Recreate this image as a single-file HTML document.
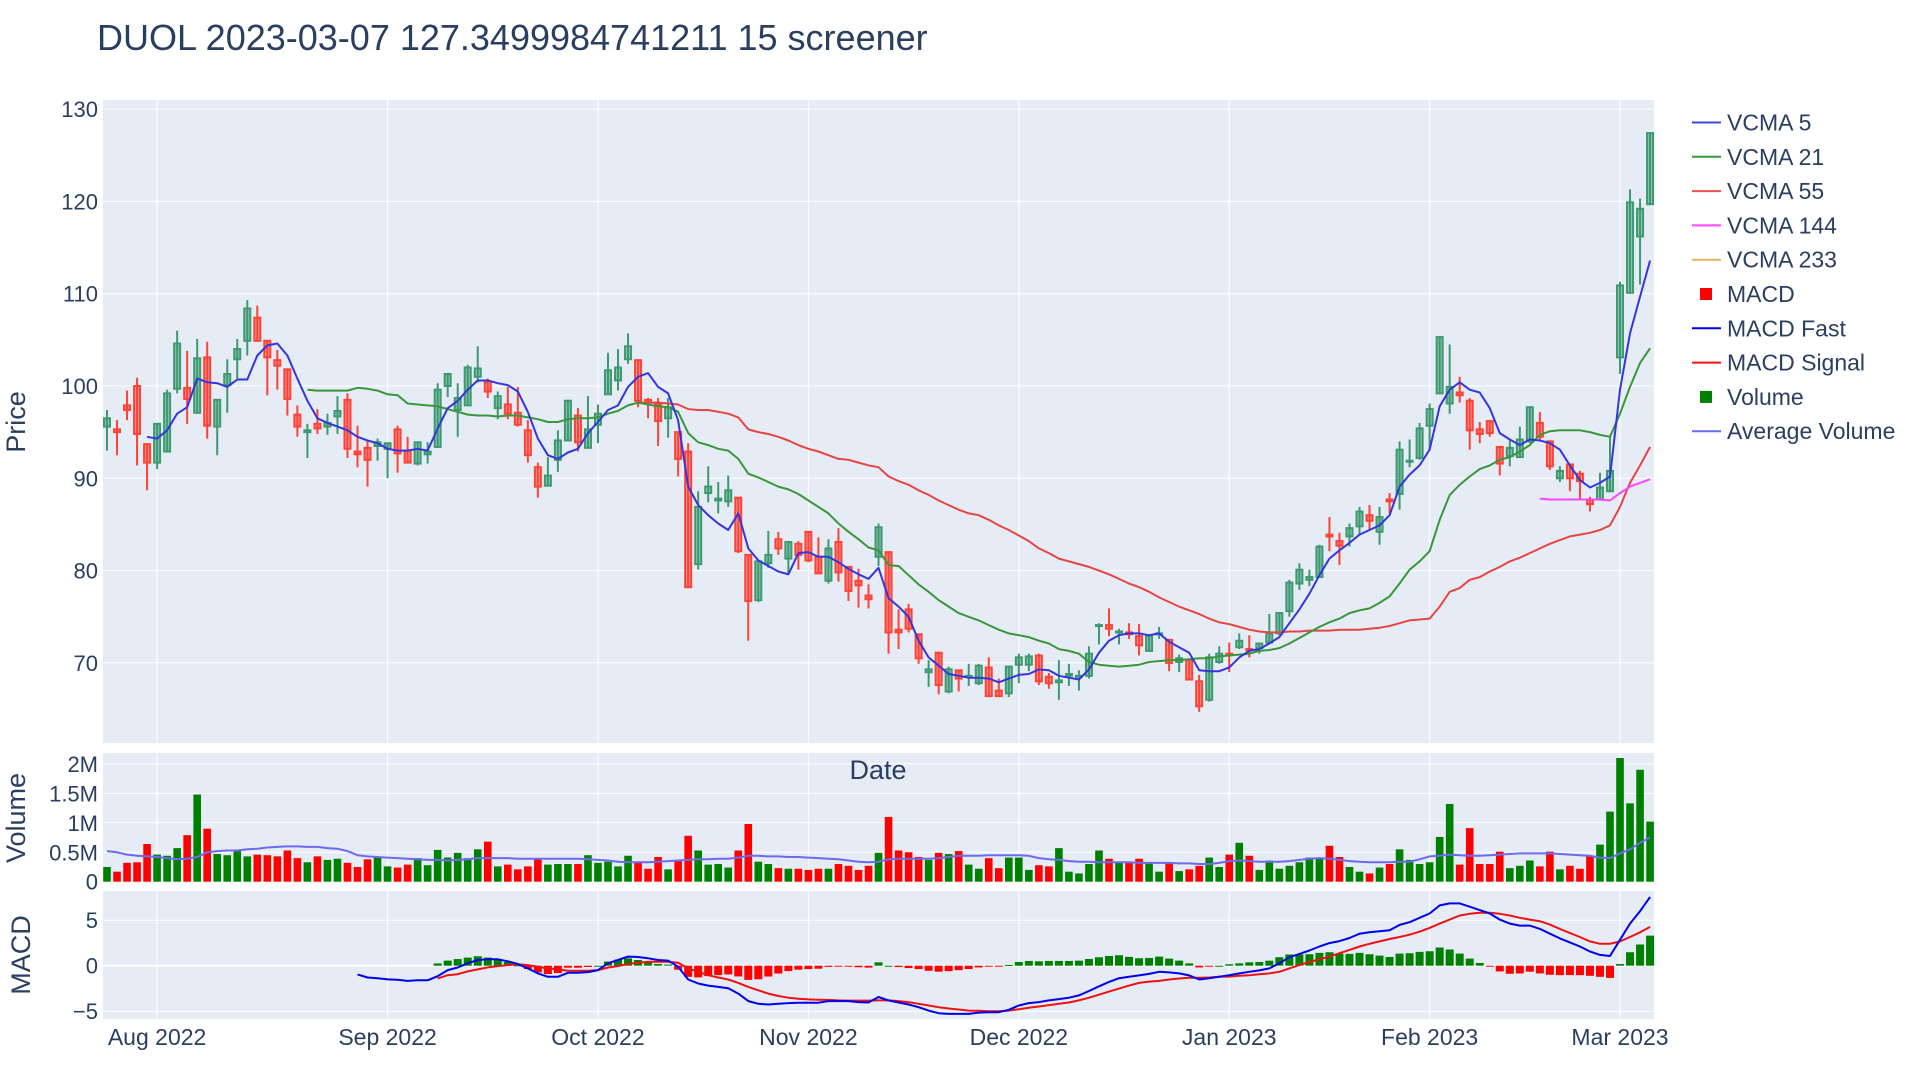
<!DOCTYPE html>
<html>
<head>
<meta charset="utf-8">
<style>
html,body{margin:0;padding:0;background:#fff;}
body{width:1920px;height:1080px;overflow:hidden;font-family:"Liberation Sans",Arial,sans-serif;}
svg{position:absolute;left:0;top:0;}
text{font-family:"Liberation Sans",Arial,sans-serif;fill:#2a3f5f;}
</style>
</head>
<body>
<svg id="chart" width="1920" height="1080" viewBox="0 0 1920 1080">
  <text x="97" y="50" font-size="36">DUOL 2023-03-07 127.3499984741211 15 screener</text>
  <rect x="103" y="100" width="1551" height="643" fill="#e5ecf6"/>
  <rect x="103" y="753" width="1551" height="130" fill="#e5ecf6"/>
  <rect x="103" y="891" width="1551" height="128" fill="#e5ecf6"/>
  <g id="grid"></g>
  <g id="marks"></g>
  <g id="axes"></g>
  <text transform="translate(25,422) rotate(-90)" text-anchor="middle" font-size="27">Price</text>
  <text transform="translate(25,818) rotate(-90)" text-anchor="middle" font-size="27">Volume</text>
  <text transform="translate(30,955) rotate(-90)" text-anchor="middle" font-size="27">MACD</text>
  <text x="878" y="779" text-anchor="middle" font-size="27">Date</text>
  <g id="legend"></g>
</svg>
<script>
// ---------- data ----------
const xTickIdx = [5,28,49,70,91,112,132,151];
const xTickLabels = ["Aug 2022","Sep 2022","Oct 2022","Nov 2022","Dec 2022","Jan 2023","Feb 2023","Mar 2023"];
const priceTicks = [70,80,90,100,110,120,130];
const volTicks = [0,0.5,1,1.5,2];
const volTickLabels = ["0","0.5M","1M","1.5M","2M"];
const macdTicks = [-5,0,5];
const macdTickLabels = ["\u22125","0","5"];

const openP = [95.6,95.3,97.9,100.0,93.7,91.7,92.9,99.7,99.8,97.1,
103.1,95.6,100.1,102.9,104.9,107.4,104.9,102.8,101.8,96.9,
95.0,95.9,95.6,96.7,98.5,92.9,93.3,93.5,93.2,95.3,
93.0,91.6,92.6,93.4,100.0,97.4,97.9,101.0,100.5,97.6,
98.0,97.1,95.2,91.2,89.2,92.0,94.1,96.8,93.3,95.8,
99.1,100.6,102.9,102.8,98.5,98.0,96.5,95.0,92.9,80.7,
88.4,87.6,87.5,87.9,81.7,76.8,80.8,83.4,81.3,82.9,
84.2,81.5,78.9,83.1,80.4,78.9,77.3,81.5,82.0,73.6,
75.8,73.1,69.0,71.1,66.9,69.2,68.5,67.8,69.5,67.0,
66.7,69.8,69.8,70.8,68.5,67.9,68.6,68.5,68.6,74.0,
74.1,73.3,73.3,72.9,71.3,73.1,72.5,70.1,70.3,68.0,
66.0,70.1,71.0,71.7,71.5,71.6,72.2,73.2,75.6,78.6,
79.0,79.3,83.9,83.2,83.7,84.8,86.0,84.2,87.7,88.3,
91.8,92.2,95.7,99.2,98.1,99.3,98.4,95.3,96.2,93.4,
92.4,92.3,94.0,96.0,94.0,90.0,91.5,90.5,87.7,87.7,
88.6,103.1,110.1,116.2,119.7];
const highP = [97.4,96.3,99.5,100.9,93.7,96.0,99.6,106.0,103.8,105.1,
104.8,98.6,102.9,105.1,109.3,108.7,104.9,103.9,101.8,97.9,
95.9,97.5,97.0,98.9,99.2,95.7,94.1,94.3,93.8,95.7,
94.5,93.9,93.9,100.3,101.3,100.3,102.3,104.3,100.8,99.4,
99.9,99.9,96.3,91.7,92.3,95.2,98.5,97.6,98.9,98.0,
103.6,104.0,105.7,102.8,98.7,98.7,98.7,95.0,93.8,88.6,
91.3,89.6,90.3,87.9,81.7,81.1,84.3,84.2,83.2,83.2,
84.2,83.6,83.4,84.6,80.4,80.2,78.5,85.1,82.0,75.8,
76.4,73.2,70.3,71.2,69.6,69.2,69.9,69.9,70.6,68.3,
69.7,71.0,71.0,71.0,68.9,70.3,69.9,69.2,71.8,74.3,
75.9,73.7,74.3,74.2,72.9,73.9,72.6,70.9,70.4,68.7,
71.0,71.8,72.2,73.2,73.0,72.2,75.3,75.5,79.0,80.8,
80.1,82.8,85.8,84.1,85.1,86.9,87.1,86.9,88.4,94.0,
94.2,96.0,98.1,105.3,104.5,101.0,98.7,96.1,96.3,93.4,
94.1,95.6,97.8,97.2,94.1,91.3,91.6,90.8,88.0,90.6,
94.5,111.3,121.3,120.3,127.4];
const lowP = [93.0,92.5,96.3,91.4,88.7,91.0,92.9,99.2,95.9,97.0,
94.3,92.5,97.1,100.8,103.3,104.8,99.0,99.6,96.8,94.5,
92.2,94.8,94.7,94.8,92.2,91.2,89.1,91.9,90.0,90.6,
91.7,91.4,91.6,93.4,98.8,94.5,97.9,100.4,98.7,96.4,
96.4,95.6,91.7,87.9,89.1,90.7,94.1,92.9,93.3,93.8,
99.1,99.5,102.4,97.7,96.5,93.5,94.4,90.2,78.2,80.1,
87.4,86.2,86.9,81.9,72.4,76.6,80.3,81.7,79.7,80.1,
80.9,79.6,78.6,78.8,76.7,76.0,75.9,80.5,71.0,71.5,
73.3,69.9,67.4,66.6,66.7,66.9,67.5,67.6,66.4,66.4,
66.3,67.8,69.1,67.6,67.2,66.0,67.5,67.0,68.3,72.0,
72.9,72.0,72.6,70.8,71.3,72.6,69.1,69.0,68.1,64.7,
65.8,69.9,69.0,71.5,70.6,71.0,72.1,73.0,75.0,77.9,
78.3,79.3,82.1,80.6,82.6,83.8,84.4,82.8,86.2,86.6,
91.2,92.0,93.1,99.2,97.0,98.2,93.1,93.8,94.5,90.3,
91.3,92.3,93.8,94.2,90.9,89.6,88.6,87.7,86.4,87.6,
88.5,101.3,110.0,111.0,119.7];
const closeP = [96.5,95.0,97.4,94.8,91.7,95.9,99.2,104.6,98.6,103.0,
95.7,98.5,101.3,104.0,108.4,104.9,103.1,102.2,98.6,95.6,
95.2,95.4,96.0,97.3,93.2,92.6,92.0,93.9,93.8,92.7,
91.7,93.9,92.9,99.6,101.3,98.7,102.0,101.9,99.4,98.9,
97.0,95.8,92.5,89.1,90.3,94.1,98.4,93.9,95.3,97.0,
101.7,102.0,104.3,98.4,98.2,96.2,97.7,92.1,78.2,86.9,
89.1,87.8,88.7,82.1,76.7,81.0,81.7,82.4,83.1,81.7,
81.1,79.7,82.4,79.8,77.8,78.4,76.9,84.7,73.3,73.3,
73.7,70.5,69.3,67.6,69.3,68.3,68.6,69.7,66.4,66.4,
69.6,70.6,70.7,68.0,67.8,68.1,68.8,68.6,71.0,74.1,
73.7,73.4,73.1,71.9,72.9,73.2,70.0,70.5,68.2,65.3,
70.6,71.0,70.9,72.4,71.4,72.1,73.2,75.4,78.7,80.1,
79.3,82.6,83.7,82.7,84.6,86.4,85.4,85.8,87.5,93.1,
91.9,95.4,97.5,105.3,99.9,99.0,95.2,94.8,94.9,91.6,
93.3,94.2,97.7,94.5,91.3,90.8,90.0,89.7,87.2,89.0,
90.8,110.9,119.9,119.2,127.4];

const volumeM = [0.25,0.17,0.32,0.33,0.64,0.46,0.44,0.57,0.79,1.48,
0.90,0.47,0.45,0.52,0.43,0.46,0.45,0.43,0.53,0.40,
0.33,0.43,0.37,0.39,0.32,0.25,0.38,0.42,0.26,0.24,
0.29,0.40,0.28,0.54,0.41,0.49,0.40,0.55,0.68,0.26,
0.29,0.21,0.26,0.39,0.29,0.30,0.30,0.30,0.45,0.32,
0.34,0.26,0.44,0.32,0.22,0.42,0.21,0.37,0.78,0.53,
0.29,0.30,0.24,0.53,0.98,0.34,0.30,0.23,0.22,0.22,
0.20,0.22,0.22,0.30,0.27,0.20,0.27,0.49,1.10,0.53,
0.50,0.42,0.37,0.49,0.47,0.52,0.29,0.22,0.40,0.23,
0.41,0.41,0.20,0.28,0.26,0.57,0.17,0.14,0.30,0.53,
0.39,0.32,0.32,0.39,0.32,0.17,0.32,0.18,0.21,0.27,
0.41,0.25,0.46,0.66,0.44,0.20,0.36,0.22,0.27,0.33,
0.41,0.41,0.61,0.42,0.25,0.17,0.14,0.24,0.30,0.55,
0.37,0.30,0.33,0.76,1.32,0.29,0.91,0.30,0.30,0.51,
0.23,0.27,0.36,0.26,0.51,0.21,0.27,0.22,0.44,0.63,
1.19,2.10,1.33,1.90,1.02];
const avgVolumeM = [0.52,0.50,0.46,0.44,0.43,0.42,0.40,0.38,0.39,0.42,
0.50,0.52,0.53,0.53,0.55,0.56,0.58,0.59,0.60,0.60,
0.59,0.59,0.57,0.56,0.52,0.45,0.43,0.42,0.41,0.40,
0.39,0.38,0.37,0.37,0.36,0.37,0.38,0.40,0.40,0.40,
0.40,0.39,0.39,0.39,0.39,0.39,0.39,0.39,0.38,0.37,
0.36,0.34,0.33,0.33,0.33,0.34,0.35,0.36,0.37,0.38,
0.38,0.39,0.39,0.41,0.44,0.44,0.43,0.43,0.42,0.42,
0.41,0.40,0.39,0.38,0.36,0.34,0.33,0.34,0.38,0.39,
0.39,0.39,0.39,0.40,0.42,0.44,0.44,0.44,0.45,0.45,
0.45,0.45,0.44,0.40,0.38,0.37,0.35,0.34,0.34,0.33,
0.33,0.33,0.33,0.32,0.32,0.32,0.32,0.31,0.31,0.30,
0.30,0.32,0.35,0.36,0.35,0.34,0.34,0.34,0.35,0.37,
0.39,0.40,0.39,0.37,0.35,0.34,0.33,0.33,0.33,0.34,
0.34,0.38,0.43,0.44,0.46,0.45,0.44,0.44,0.45,0.46,
0.47,0.48,0.48,0.48,0.48,0.47,0.46,0.45,0.44,0.41,
0.40,0.48,0.55,0.66,0.75];

const vcma5Start = 4;
const vcma5 = [94.5,94.3,95.2,97.0,97.7,100.8,100.4,100.3,99.9,100.7,
100.7,103.3,104.4,104.6,103.3,100.8,98.4,96.5,96.0,95.6,
95.2,94.5,94.1,93.8,93.2,93.0,93.0,93.2,93.0,95.4,
97.6,98.4,99.6,100.6,100.6,100.3,100.1,99.4,97.2,94.3,
92.5,92.1,92.8,93.2,94.9,96.1,97.4,97.9,99.9,101.0,
101.4,99.9,99.2,96.3,89.1,87.1,86.0,85.1,84.4,86.2,
82.4,81.1,80.5,79.9,79.6,81.9,82.0,81.5,81.5,80.9,
80.2,79.6,79.1,80.3,77.0,76.1,75.0,72.4,70.6,69.7,
68.8,68.6,68.4,68.4,68.3,67.9,68.3,68.7,68.8,69.3,
69.2,68.6,68.4,68.2,69.3,71.1,72.4,73.0,73.2,73.2,
73.0,73.2,72.3,71.7,71.1,69.2,69.1,69.1,69.5,70.6,
71.3,71.5,72.1,72.8,74.3,75.8,77.5,79.5,81.3,82.2,
83.0,83.9,84.4,84.9,86.0,89.1,90.4,91.4,93.1,97.8,
99.6,100.4,99.6,99.3,97.6,94.9,94.2,93.6,94.2,94.1,
93.8,93.1,91.4,89.8,89.0,89.5,90.2,99.6,105.7,109.7,
113.6];
const vcma21Start = 20;
const vcma21 = [99.6,99.5,99.5,99.5,99.5,99.8,99.7,99.5,99.1,99.0,
98.1,98.0,97.9,97.8,97.5,97.2,96.9,96.8,96.8,96.7,
96.8,96.8,96.6,96.4,96.1,96.1,96.4,96.5,96.5,96.6,
97.0,97.3,97.9,98.2,98.0,97.8,97.7,97.2,94.9,93.9,
93.6,93.2,93.0,92.1,90.5,90.1,89.6,89.1,88.8,88.3,
87.6,86.9,86.2,85.1,84.2,83.4,82.5,82.2,80.6,80.5,
79.5,78.5,77.7,76.8,76.1,75.4,75.0,74.6,74.1,73.6,
73.2,73.0,72.8,72.4,72.1,71.5,71.3,71.0,70.1,69.8,
69.7,69.6,69.7,69.8,70.1,70.2,70.3,70.3,70.4,70.5,
70.5,70.7,70.8,70.9,71.0,71.3,71.4,71.6,72.1,72.7,
73.3,73.9,74.4,74.8,75.4,75.7,75.9,76.5,77.2,78.6,
80.1,81.0,82.1,85.5,88.2,89.3,90.2,91.0,91.4,92.0,
92.3,92.9,93.6,94.7,95.1,95.2,95.2,95.2,95.0,94.7,
94.5,97.0,99.9,102.5,104.1];
const vcma55Start = 53;
const vcma55 = [98.2,98.2,98.2,98.1,98.0,97.5,97.4,97.4,97.2,97.0,
96.6,95.3,95.0,94.8,94.5,94.1,93.6,93.2,92.9,92.5,
92.1,92.0,91.7,91.4,91.2,90.2,89.7,89.3,88.7,88.2,
87.6,87.1,86.6,86.2,86.0,85.5,84.9,84.4,83.8,83.2,
82.4,81.9,81.3,81.0,80.7,80.4,80.0,79.6,79.1,78.6,
78.2,77.7,77.1,76.6,76.1,75.7,75.3,74.8,74.4,74.2,
73.9,73.6,73.4,73.3,73.3,73.4,73.4,73.5,73.5,73.5,
73.6,73.6,73.6,73.7,73.8,74.0,74.3,74.6,74.7,74.8,
76.1,77.7,78.1,79.0,79.3,79.9,80.4,81.0,81.4,81.9,
82.4,82.9,83.3,83.7,83.9,84.1,84.4,84.9,86.9,89.5,
91.4,93.4];
const vcma144Start = 143;
const vcma144 = [87.8,87.7,87.7,87.7,87.7,87.7,87.7,87.6,88.4,89.1,89.5,89.9];

const macdFastStart = 25;
const macdFast = [-0.96,-1.3,-1.37,-1.5,-1.55,-1.67,-1.6,-1.6,
-1.15,-0.48,-0.2,0.26,0.63,0.7,0.7,0.48,0.19,-0.3,-0.85,-1.22,-1.22,-0.78,-0.78,-0.7,-0.48,0.26,0.63,1.0,0.96,0.81,0.63,0.56,-0.11,
-1.52,-1.96,-2.19,-2.33,-2.48,-3.07,-3.89,-4.19,-4.26,-4.19,-4.11,-4.07,-4.07,-4.07,-3.89,-3.89,-3.89,-4.0,-4.04,-3.44,-3.81,-4.04,-4.26,-4.56,-4.93,-5.22,-5.3,-5.3,-5.3,-5.15,-5.11,-5.11,-4.85,-4.37,-4.11,-4.0,-3.81,-3.67,-3.52,-3.26,-2.78,-2.26,-1.78,-1.37,-1.22,-1.07,-0.9,
-0.67,-0.74,-0.85,-1.07,-1.52,-1.37,-1.22,-1.04,-0.85,-0.67,-0.52,-0.3,0.26,0.93,1.3,1.67,2.11,2.48,2.7,3.04,3.52,3.67,3.78,3.89,4.48,4.78,5.26,5.74,6.63,6.85,6.85,6.48,6.11,5.74,5.07,4.63,4.41,4.41,4.04,3.52,3.0,2.56,2.11,1.56,1.19,1.07,2.85,4.63,6.0,7.56];
const macdSignalStart = 33;
const macdSignal = [-1.4,-1.04,-0.93,-0.63,-0.41,-0.19,-0.04,0.07,0.15,0.07,-0.11,-0.3,-0.41,-0.56,-0.56,-0.56,-0.48,-0.2,-0.04,0.19,0.33,0.44,0.44,0.44,0.33,
-0.3,-0.67,-1.04,-1.3,-1.52,-1.89,-2.33,-2.7,-3.07,-3.33,-3.52,-3.63,-3.7,-3.74,-3.76,-3.81,-3.83,-3.83,-3.83,-3.81,-3.81,-3.89,-4.0,-4.19,-4.37,-4.56,-4.7,-4.81,-4.93,-4.96,-5.0,-5.0,-4.93,-4.78,-4.63,-4.48,-4.33,-4.19,-4.04,-3.81,-3.52,-3.19,-2.85,-2.52,-2.19,-1.89,-1.75,
-1.67,-1.52,-1.41,-1.33,-1.33,-1.3,-1.22,-1.2,-1.11,-1.04,-0.93,-0.85,-0.67,-0.3,0.07,0.41,0.7,1.0,1.37,1.74,2.11,2.41,2.67,2.93,3.15,3.41,3.74,4.15,4.63,5.07,5.52,5.7,5.81,5.81,5.7,5.52,5.26,5.07,4.89,4.52,4.04,3.59,3.15,2.67,2.41,2.41,2.67,3.15,3.67,4.26];
const macdHistStart = 33;
const macdHist = [0.25,0.56,0.73,0.89,1.04,0.89,0.74,0.41,0.04,-0.37,-0.74,-0.92,-0.81,-0.22,-0.22,-0.14,0.0,0.46,0.67,0.81,0.63,0.37,0.19,0.12,-0.44,
-1.22,-1.29,-1.15,-1.03,-0.96,-1.18,-1.56,-1.49,-1.19,-0.86,-0.59,-0.44,-0.37,-0.33,-0.13,-0.08,-0.06,-0.17,-0.21,0.37,0.0,-0.15,-0.26,-0.37,-0.56,-0.66,-0.6,-0.49,-0.37,-0.19,-0.11,-0.11,0.08,0.41,0.52,0.48,0.52,0.52,0.52,0.55,0.74,0.93,1.07,1.15,0.97,0.82,0.85,
1.0,0.78,0.56,0.26,-0.19,-0.07,0.0,0.16,0.26,0.37,0.41,0.55,0.93,1.23,1.23,1.26,1.41,1.48,1.33,1.3,1.41,1.26,1.11,0.96,1.33,1.37,1.52,1.59,2.0,1.78,1.33,0.78,0.3,-0.07,-0.63,-0.89,-0.85,-0.66,-0.85,-1.0,-1.04,-1.03,-1.04,-1.11,-1.22,-1.34,0.18,1.48,2.33,3.3];

const legendNames = ["VCMA 5","VCMA 21","VCMA 55","VCMA 144","VCMA 233","MACD","MACD Fast","MACD Signal","Volume","Average Volume"];
const legendKinds = ["line","line","line","line","line","square","line","line","square","line"];
const legendColors = ["#4444dd","#3a963a","#ef5050","#ff44ff","#e2b45e","#ff0000","#0000ee","#ee1111","#008000","#6b6bf0"];

// ---------- scales ----------
const PX0 = 103, PX1 = 1654;
function xS(i){ return 107 + 10.02 * i; }
function yP(p){ return 386 - (p - 100) * 9.23; }
function yV(v){ return 881.7 - v * 58.9; }
function yM(m){ return 965.7 - m * 9.1; }

const NS = "http://www.w3.org/2000/svg";
function mk(tag, attrs, parent){
  const e = document.createElementNS(NS, tag);
  for (const k in attrs) e.setAttribute(k, attrs[k]);
  parent.appendChild(e);
  return e;
}
const grid = document.getElementById("grid");
const marks = document.getElementById("marks");
const axes = document.getElementById("axes");
const legend = document.getElementById("legend");

// ---------- grid ----------
const panels = [[100,743],[753,883],[891,1019]];
xTickIdx.forEach(function(ix, k){
  panels.forEach(function(pn){
    const l = mk("line", {x1:xS(ix), x2:xS(ix), y1:pn[0], y2:pn[1], stroke:"#fff", "stroke-width":1}, grid);
    
    
  });
  const t = mk("text", {x:xS(ix), y:1045, "text-anchor":"middle", "font-size":23}, axes);
  t.textContent = xTickLabels[k];
  
  
});
priceTicks.forEach(function(v){
  const l = mk("line", {x1:PX0, x2:PX1, y1:yP(v), y2:yP(v), stroke:"#fff", "stroke-width":1}, grid);
  
  
  const t = mk("text", {x:98, y:yP(v)+8, "text-anchor":"end", "font-size":22}, axes);
  t.textContent = String(v);
  
  
});
volTicks.forEach(function(v, k){
  const l = mk("line", {x1:PX0, x2:PX1, y1:yV(v), y2:yV(v), stroke:"#fff", "stroke-width": v===0 ? 2 : 1}, grid);
  
  
  const t = mk("text", {x:98, y:yV(v)+8, "text-anchor":"end", "font-size":22}, axes);
  t.textContent = volTickLabels[k];
  
  
});
macdTicks.forEach(function(v, k){
  const l = mk("line", {x1:PX0, x2:PX1, y1:yM(v), y2:yM(v), stroke:"#fff", "stroke-width": v===0 ? 2 : 1}, grid);
  
  
  const t = mk("text", {x:98, y:yM(v)+8, "text-anchor":"end", "font-size":22}, axes);
  t.textContent = macdTickLabels[k];
  
  
});

// ---------- lines ----------
function drawLine(arr, start, yf, color, width, name){
  let pts = [];
  arr.forEach(function(v, k){
    if (v === null || v === undefined) return;
    pts.push(xS(start + k).toFixed(1) + "," + yf(v).toFixed(1));
  });
  const pl = mk("polyline", {points: pts.join(" "), fill:"none", stroke:color, "stroke-width":width, "stroke-linejoin":"round"}, marks);
  
  
}

// ---------- candles ----------
closeP.forEach(function(c, i){
  const o = openP[i], up = c >= o;
  const col = up ? "#3d9970" : "#ff4136";
  const fill = up ? "rgba(61,153,112,0.5)" : "rgba(255,65,54,0.5)";
  const x = xS(i);
  const w = mk("line", {x1:x, x2:x, y1:yP(highP[i]), y2:yP(lowP[i]), stroke:col, "stroke-width":2}, marks);
  
  
  const top = yP(Math.max(o, c)), bot = yP(Math.min(o, c));
  const b = mk("rect", {x:x-3, y:top, width:6, height:Math.max(bot-top, 1), fill:fill, stroke:col, "stroke-width":2}, marks);
  
  
});

drawLine(vcma55, vcma55Start, yP, "#e84444", 2, "vcma-55-line");
drawLine(vcma21, vcma21Start, yP, "#3a963a", 2, "vcma-21-line");
drawLine(vcma5, vcma5Start, yP, "#3535dd", 2, "vcma-5-line");
drawLine(vcma144, vcma144Start, yP, "#ff44ff", 2, "vcma-144-line");

// ---------- volume ----------
volumeM.forEach(function(v, i){
  const up = closeP[i] >= openP[i];
  const r = mk("rect", {x:xS(i)-3.8, y:yV(v), width:7.6, height:yV(0)-yV(v), fill: up ? "#008000" : "#ff0000"}, marks);
  
  
});
drawLine(avgVolumeM, 0, yV, "#6b6bf0", 2, "average-volume-line");

// ---------- MACD ----------
macdHist.forEach(function(v, k){
  const i = macdHistStart + k;
  const y0 = yM(0), y1 = yM(v);
  const r = mk("rect", {x:xS(i)-4, y:Math.min(y0,y1), width:8, height:Math.max(Math.abs(y1-y0), 1), fill: v >= 0 ? "#008000" : "#ff0000"}, marks);
  
  
});
drawLine(macdSignal, macdSignalStart, yM, "#ee1111", 2, "macd-signal-line");
drawLine(macdFast, macdFastStart, yM, "#0000ee", 2, "macd-fast-line");

// ---------- legend ----------
legendNames.forEach(function(n, k){
  const y = 122.5 + 34.3 * k;
  if (legendKinds[k] === "line") {
    const l = mk("line", {x1:1692, x2:1721, y1:y, y2:y, stroke:legendColors[k], "stroke-width":2}, legend);
    
    
  } else {
    const s = mk("rect", {x:1700, y:y-6, width:12, height:12, fill:legendColors[k]}, legend);
    
    
  }
  const t = mk("text", {x:1727, y:y+8, "font-size":23}, legend);
  t.textContent = n;
  
  
});
</script>
</body>
</html>
